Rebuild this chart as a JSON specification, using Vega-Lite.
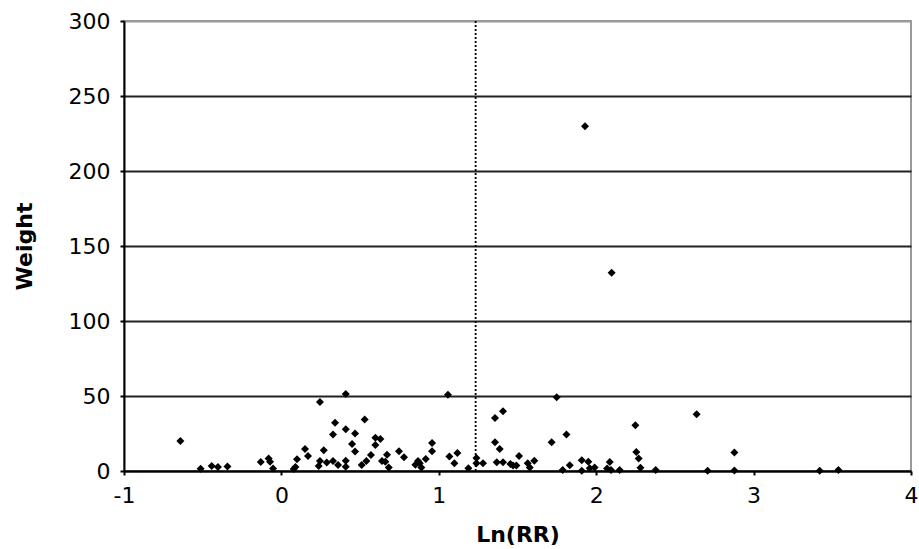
{
  "$schema": "https://vega.github.io/schema/vega-lite/v6.json",
  "width": 787,
  "height": 450,
  "autosize": {"type": "none"},
  "padding": {"left": 124, "top": 21, "right": 8, "bottom": 78},
  "background": "white",
  "config": {
    "view": {"stroke": "#999999", "strokeWidth": 2},
    "font": "DejaVu Sans"
  },
  "datasets": {
    "pts": [
      {"lnrr": -0.642, "weight": 20}, {"lnrr": -0.513, "weight": 1.5}, {"lnrr": -0.443, "weight": 3.3}, {"lnrr": -0.403, "weight": 2.7},
      {"lnrr": -0.343, "weight": 3}, {"lnrr": -0.131, "weight": 6}, {"lnrr": -0.081, "weight": 8.4}, {"lnrr": -0.072, "weight": 6.2},
      {"lnrr": -0.053, "weight": 1.6}, {"lnrr": 0.078, "weight": 1.3}, {"lnrr": 0.089, "weight": 2.7}, {"lnrr": 0.099, "weight": 7.8},
      {"lnrr": 0.15, "weight": 14.7}, {"lnrr": 0.169, "weight": 10}, {"lnrr": 0.237, "weight": 3.3}, {"lnrr": 0.245, "weight": 46},
      {"lnrr": 0.245, "weight": 6.7}, {"lnrr": 0.269, "weight": 13.8}, {"lnrr": 0.288, "weight": 5.6}, {"lnrr": 0.328, "weight": 6.7},
      {"lnrr": 0.328, "weight": 24.4}, {"lnrr": 0.341, "weight": 32.2}, {"lnrr": 0.36, "weight": 4}, {"lnrr": 0.409, "weight": 51.3},
      {"lnrr": 0.409, "weight": 27.8}, {"lnrr": 0.409, "weight": 6.9}, {"lnrr": 0.409, "weight": 2.9}, {"lnrr": 0.449, "weight": 18},
      {"lnrr": 0.468, "weight": 25}, {"lnrr": 0.468, "weight": 13}, {"lnrr": 0.51, "weight": 4}, {"lnrr": 0.529, "weight": 34.4},
      {"lnrr": 0.54, "weight": 6.7}, {"lnrr": 0.569, "weight": 10.7}, {"lnrr": 0.597, "weight": 22.2}, {"lnrr": 0.597, "weight": 17.3},
      {"lnrr": 0.629, "weight": 21.3}, {"lnrr": 0.639, "weight": 6.7}, {"lnrr": 0.66, "weight": 6.2}, {"lnrr": 0.671, "weight": 10.9},
      {"lnrr": 0.682, "weight": 2.4}, {"lnrr": 0.747, "weight": 13.1}, {"lnrr": 0.779, "weight": 9.1}, {"lnrr": 0.851, "weight": 4.2},
      {"lnrr": 0.868, "weight": 6.7}, {"lnrr": 0.879, "weight": 5.1}, {"lnrr": 0.889, "weight": 2.4}, {"lnrr": 0.917, "weight": 8},
      {"lnrr": 0.957, "weight": 18.7}, {"lnrr": 0.957, "weight": 13.1}, {"lnrr": 1.058, "weight": 50.9}, {"lnrr": 1.067, "weight": 9.6},
      {"lnrr": 1.099, "weight": 5.1}, {"lnrr": 1.118, "weight": 12}, {"lnrr": 1.188, "weight": 1.8}, {"lnrr": 1.239, "weight": 8.7},
      {"lnrr": 1.239, "weight": 5.1}, {"lnrr": 1.281, "weight": 5.1}, {"lnrr": 1.357, "weight": 35.3}, {"lnrr": 1.408, "weight": 39.8},
      {"lnrr": 1.357, "weight": 19.1}, {"lnrr": 1.387, "weight": 14.7}, {"lnrr": 1.368, "weight": 5.8}, {"lnrr": 1.408, "weight": 5.8},
      {"lnrr": 1.455, "weight": 4.7}, {"lnrr": 1.472, "weight": 3.6}, {"lnrr": 1.493, "weight": 3.6}, {"lnrr": 1.51, "weight": 10},
      {"lnrr": 1.565, "weight": 5.1}, {"lnrr": 1.578, "weight": 2.4}, {"lnrr": 1.607, "weight": 6.9}, {"lnrr": 1.717, "weight": 19.1},
      {"lnrr": 1.749, "weight": 49.1}, {"lnrr": 1.787, "weight": 0.7}, {"lnrr": 1.811, "weight": 24.4}, {"lnrr": 1.832, "weight": 3.8},
      {"lnrr": 1.908, "weight": 7.1}, {"lnrr": 1.908, "weight": 0.2}, {"lnrr": 1.95, "weight": 6.2}, {"lnrr": 1.959, "weight": 1.8},
      {"lnrr": 1.99, "weight": 2.4}, {"lnrr": 2.069, "weight": 1.6}, {"lnrr": 2.086, "weight": 6}, {"lnrr": 2.094, "weight": 0.7},
      {"lnrr": 2.149, "weight": 0.7}, {"lnrr": 2.249, "weight": 30.5}, {"lnrr": 2.255, "weight": 12.7}, {"lnrr": 2.27, "weight": 8.4},
      {"lnrr": 2.281, "weight": 2.2}, {"lnrr": 2.378, "weight": 0.7}, {"lnrr": 2.638, "weight": 37.8}, {"lnrr": 2.708, "weight": 0.2},
      {"lnrr": 2.878, "weight": 12.4}, {"lnrr": 2.878, "weight": 0.4}, {"lnrr": 3.42, "weight": 0.2}, {"lnrr": 3.539, "weight": 0.7},
      {"lnrr": 1.929, "weight": 229.8}, {"lnrr": 2.098, "weight": 132.2}
    ],
    "ref": [{"x": 1.234, "y0": 0, "y1": 300}]
  },
  "layer": [
    {
      "data": {"name": "pts"},
      "mark": {"type": "point", "shape": "diamond", "filled": true, "size": 64, "color": "#000000", "opacity": 1},
      "encoding": {
        "x": {
          "field": "lnrr", "type": "quantitative",
          "scale": {"domain": [-1, 4], "nice": false, "zero": false},
          "axis": {
            "title": "Ln(RR)", "values": [-1, 0, 1, 2, 3, 4], "grid": false,
            "labelExpr": "datum.value < 0 ? '-' + abs(datum.value) : '' + datum.value",
            "domainColor": "#000000", "domainWidth": 2, "tickColor": "#000000", "tickWidth": 2, "tickSize": 4,
            "labelFont": "DejaVu Sans", "labelFontSize": 22, "labelColor": "#000000", "labelPadding": 10,
            "labelFlush": false, "labelOverlap": false,
            "titleFont": "DejaVu Sans", "titleFontSize": 22, "titleFontWeight": "bold", "titleColor": "#000000", "titlePadding": 18
          }
        },
        "y": {
          "field": "weight", "type": "quantitative",
          "scale": {"domain": [0, 300], "nice": false},
          "axis": {
            "title": "Weight", "values": [0, 50, 100, 150, 200, 250, 300],
            "grid": true,
            "gridColor": {"condition": {"test": "datum.value === 300", "value": "#999999"}, "value": "#222222"},
            "gridWidth": 2,
            "domainColor": "#000000", "domainWidth": 2, "tickColor": "#000000", "tickWidth": 2, "tickSize": 4,
            "labelFont": "DejaVu Sans", "labelFontSize": 22, "labelColor": "#000000", "labelPadding": 10,
            "labelFlush": false, "labelOverlap": false,
            "titleFont": "DejaVu Sans", "titleFontSize": 22, "titleFontWeight": "bold", "titleColor": "#000000", "titlePadding": 32
          }
        }
      }
    },
    {
      "data": {"name": "ref"},
      "mark": {"type": "rule", "color": "#000000", "strokeWidth": 1.8, "strokeDash": [2, 2]},
      "encoding": {
        "x": {"field": "x", "type": "quantitative"},
        "y": {"field": "y0", "type": "quantitative"},
        "y2": {"field": "y1"}
      }
    }
  ]
}
